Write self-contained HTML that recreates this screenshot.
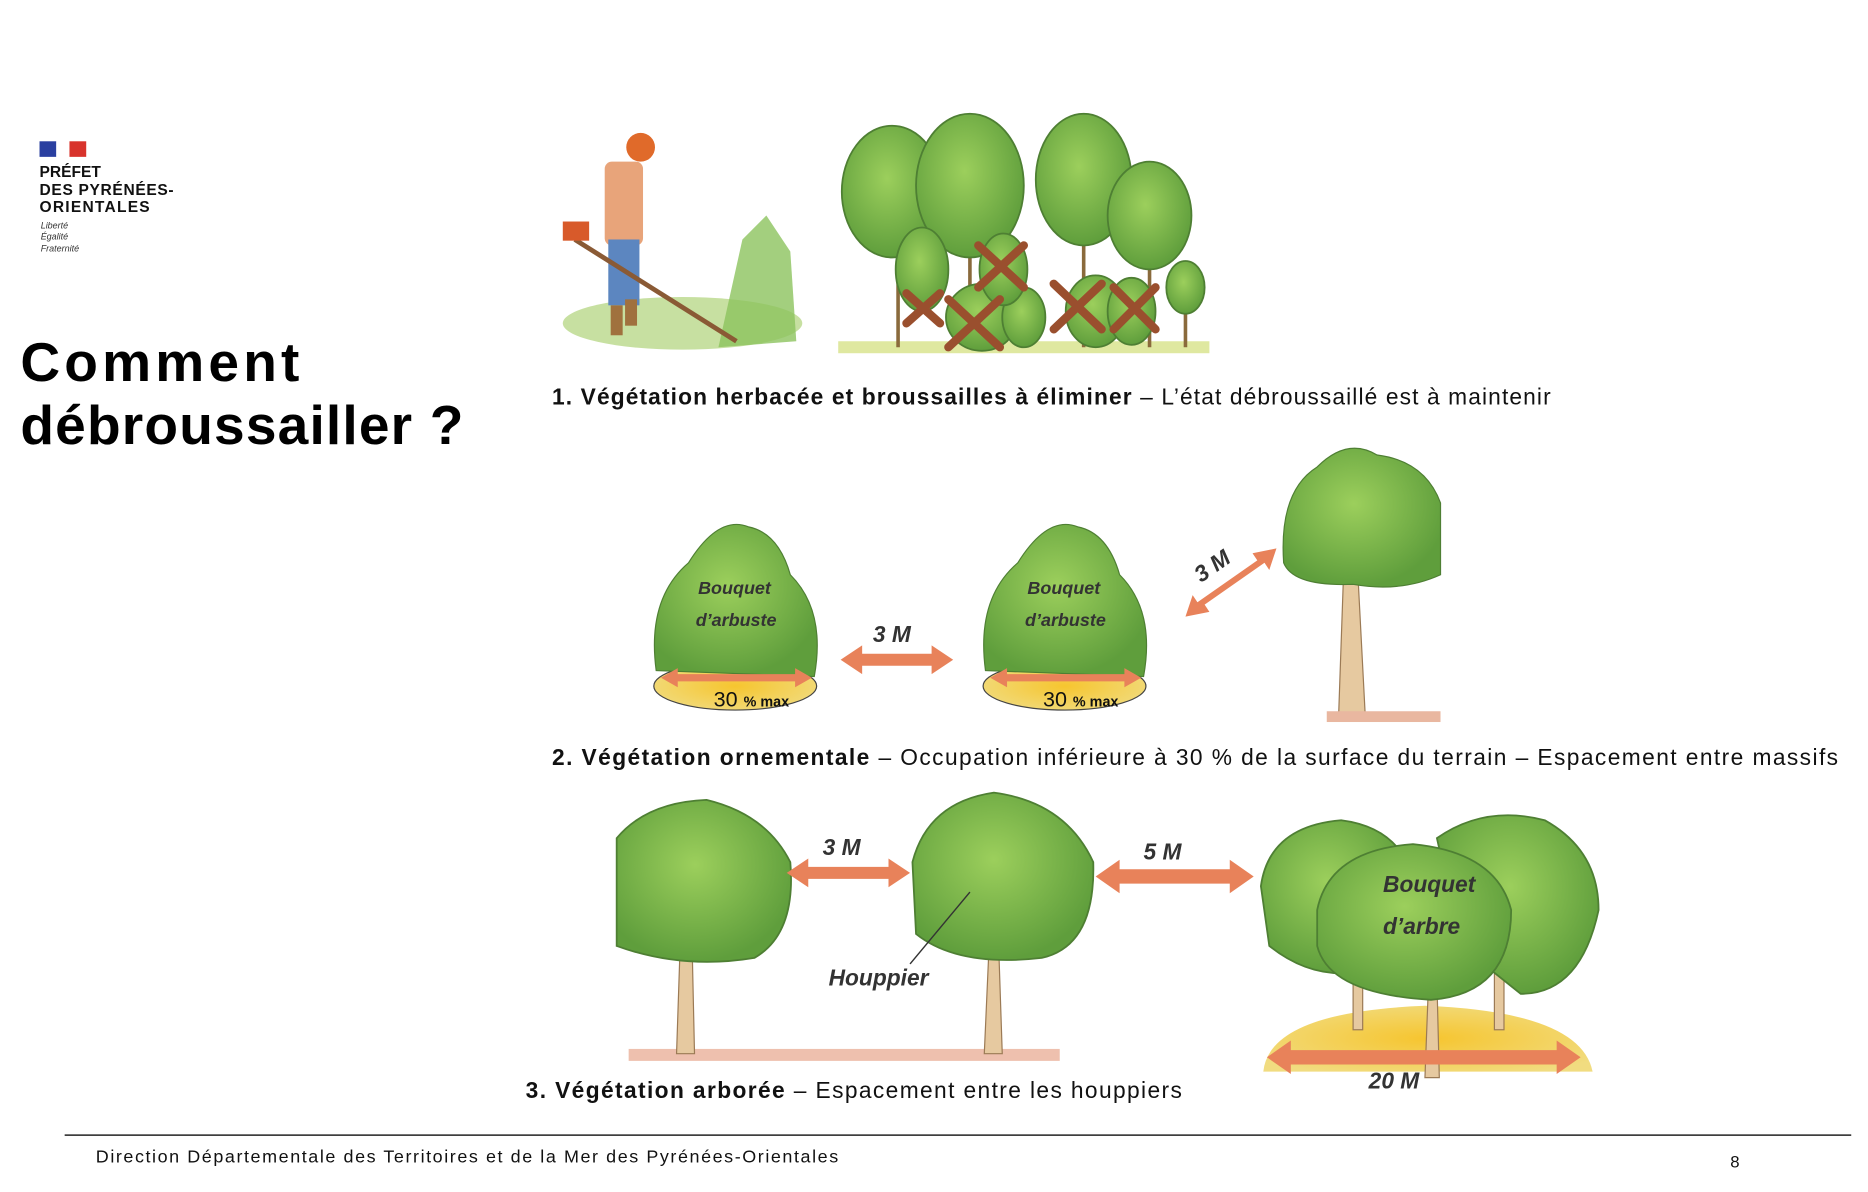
<!DOCTYPE html>
<html><head><meta charset="utf-8"><style>
html,body{margin:0;padding:0;background:#fff;width:1868px;height:1192px;overflow:hidden}
svg{display:block}
text{font-family:"Liberation Sans",sans-serif}
.cap{font-size:19px;fill:#111;font-family:"Liberation Sans Narrow","Liberation Sans",sans-serif}
.lbl{font-size:19px;font-weight:bold;font-style:italic;fill:#333}
</style></head><body>
<svg width="1868" height="1192" viewBox="0 0 1560 995.5" preserveAspectRatio="none" xmlns="http://www.w3.org/2000/svg">
<defs>
<radialGradient id="g" cx="45%" cy="40%" r="60%"><stop offset="0" stop-color="#9ccf5c"/><stop offset="1" stop-color="#5f9e3c"/></radialGradient>
<radialGradient id="y" cx="50%" cy="50%" r="60%"><stop offset="0" stop-color="#f6c52f"/><stop offset="1" stop-color="#f1dc80"/></radialGradient>
</defs>
<!-- logo -->
<rect x="33" y="118" width="14" height="13" fill="#2a3fa0"/><rect x="47" y="118" width="11" height="13" fill="#fff"/><rect x="58" y="118" width="14" height="13" fill="#d8332c"/>
<g font-weight="bold" font-size="13" fill="#111"><text x="33" y="148">PRÉFET</text><text x="33" y="163" textLength="112">DES PYRÉNÉES-</text><text x="33" y="177" textLength="92">ORIENTALES</text></g>
<g font-style="italic" font-size="7.5" fill="#333" font-family="Liberation Serif"><text x="34" y="191">Liberté</text><text x="34" y="200">Égalité</text><text x="34" y="210">Fraternité</text></g>
<g font-weight="bold" font-size="46" fill="#000"><text x="17" y="318" textLength="233">Comment</text><text x="17" y="371" textLength="370">débroussailler ?</text></g>

<!-- row 1: worker -->
<ellipse cx="570" cy="270" rx="100" ry="22" fill="#b9d88a" opacity=".8"/>
<path d="M600 290 L620 200 L640 180 L660 210 L665 285Z" fill="#8cc35e" opacity=".8"/>
<circle cx="535" cy="123" r="12" fill="#e06a2a"/>
<rect x="505" y="135" width="32" height="70" rx="6" fill="#e8a47a"/>
<rect x="508" y="200" width="26" height="55" fill="#5c86c0"/>
<rect x="510" y="255" width="10" height="25" fill="#a0713e"/><rect x="522" y="250" width="10" height="22" fill="#a0713e"/>
<line x1="480" y1="200" x2="615" y2="285" stroke="#8a5a35" stroke-width="4"/>
<rect x="470" y="185" width="22" height="16" fill="#d85a2a"/>
<!-- trees with crosses -->
<rect x="700" y="285" width="310" height="10" fill="#dfe8a0"/>
<g stroke="#8a6a3c" stroke-width="3"><line x1="750" y1="190" x2="750" y2="290"/><line x1="810" y1="190" x2="810" y2="290"/><line x1="905" y1="200" x2="905" y2="290"/><line x1="960" y1="210" x2="960" y2="290"/><line x1="990" y1="250" x2="990" y2="290"/></g>
<g fill="url(#g)" stroke="#4e7f33" stroke-width="1.5">
<ellipse cx="745" cy="160" rx="42" ry="55"/><ellipse cx="810" cy="155" rx="45" ry="60"/>
<ellipse cx="905" cy="150" rx="40" ry="55"/><ellipse cx="960" cy="180" rx="35" ry="45"/>
<ellipse cx="770" cy="225" rx="22" ry="35"/><ellipse cx="820" cy="265" rx="30" ry="28"/><ellipse cx="855" cy="265" rx="18" ry="25"/>
<ellipse cx="838" cy="225" rx="20" ry="30"/><ellipse cx="915" cy="260" rx="25" ry="30"/><ellipse cx="945" cy="260" rx="20" ry="28"/><ellipse cx="990" cy="240" rx="16" ry="22"/>
</g>
<g stroke="#9a4f2e" stroke-width="7" stroke-linecap="round">
<line x1="757" y1="245" x2="785" y2="270"/><line x1="785" y1="245" x2="757" y2="270"/>
<line x1="792" y1="250" x2="835" y2="290"/><line x1="835" y1="250" x2="792" y2="290"/>
<line x1="817" y1="205" x2="855" y2="240"/><line x1="855" y1="205" x2="817" y2="240"/>
<line x1="880" y1="237" x2="920" y2="275"/><line x1="920" y1="237" x2="880" y2="275"/>
<line x1="930" y1="240" x2="965" y2="275"/><line x1="965" y1="240" x2="930" y2="275"/>
</g>
<text class="cap" x="461" y="338" textLength="834"><tspan font-weight="bold">1. Végétation herbacée et broussailles à éliminer</tspan> – L’état débroussaillé est à maintenir</text>

<!-- row 2 -->
<g>
<ellipse cx="614" cy="573" rx="68" ry="20" fill="url(#y)" stroke="#444"/>
<path d="M548 560 Q540 500 575 470 Q600 430 625 440 Q650 445 660 480 Q690 510 680 565 Z" fill="url(#g)" stroke="#4e7f33"/>
<ellipse cx="889" cy="573" rx="68" ry="20" fill="url(#y)" stroke="#444"/>
<path d="M823 560 Q815 500 850 470 Q875 430 900 440 Q925 445 935 480 Q965 510 955 565 Z" fill="url(#g)" stroke="#4e7f33"/>
</g>
<g fill="#e8825a">
<path d="M552 566 L566 558 L566 563 L664 563 L664 558 L678 566 L664 574 L664 569 L566 569 L566 574Z"/>
<path d="M827 566 L841 558 L841 563 L939 563 L939 558 L953 566 L939 574 L939 569 L841 569 L841 574Z"/>
<path d="M702 551 L720 539 L720 546 L778 546 L778 539 L796 551 L778 563 L778 556 L720 556 L720 563Z"/>
<path d="M990 515 L996 497 L1000 503 L1050 468 L1046 462 L1066 458 L1060 476 L1056 470 L1006 505 L1010 511Z"/>
</g>
<g class="lbl" font-size="15" fill="#555"><text x="583" y="496" font-size="15">Bouquet</text><text x="581" y="523" font-size="15">d’arbuste</text><text x="858" y="496" font-size="15">Bouquet</text><text x="856" y="523" font-size="15">d’arbuste</text></g>
<text x="596" y="590" font-size="18" fill="#111" font-family="Liberation Sans Narrow">30 <tspan font-size="12" font-weight="bold">% max</tspan></text>
<text x="871" y="590" font-size="18" fill="#111" font-family="Liberation Sans Narrow">30 <tspan font-size="12" font-weight="bold">% max</tspan></text>
<text class="lbl" x="729" y="536">3 M</text>
<text class="lbl" transform="translate(1003,487) rotate(-35)">3 M</text>
<path d="M1122 480 L1118 595 L1140 595 L1134 480Z" fill="#e6c9a0" stroke="#9b7a55"/>
<rect x="1108" y="594" width="95" height="9" fill="#e9b7a0"/>
<path d="M1072 470 Q1068 410 1100 390 Q1125 365 1150 380 Q1190 385 1203 420 L1203 480 Q1170 495 1130 488 Q1080 490 1072 470Z" fill="url(#g)" stroke="#4e7f33"/>
<text class="cap" x="461" y="639" textLength="1074"><tspan font-weight="bold">2. Végétation ornementale</tspan> – Occupation inférieure à 30 % de la surface du terrain – Espacement entre massifs</text>

<!-- row 3 -->
<rect x="525" y="876" width="360" height="10" fill="#eec0ae"/>
<g fill="#e6c9a0" stroke="#9b7a55"><path d="M568 790 L565 880 L580 880 L578 790Z"/><path d="M826 790 L822 880 L837 880 L834 790Z"/></g>
<g fill="url(#g)" stroke="#4e7f33" stroke-width="1.5">
<path d="M515 700 Q540 670 590 668 Q640 680 660 720 Q665 780 630 800 Q570 810 515 790Z"/>
<path d="M762 720 Q775 670 830 662 Q890 670 913 720 Q915 790 870 800 Q800 808 765 780Z"/>
</g>
<line x1="810" y1="745" x2="760" y2="805" stroke="#333" stroke-width="1.2"/>
<text class="lbl" x="692" y="823" font-size="16" fill="#555">Houppier</text>
<g fill="#e8825a">
<path d="M657 729 L675 717 L675 724 L742 724 L742 717 L760 729 L742 741 L742 734 L675 734 L675 741Z"/>
<path d="M915 732 L935 718 L935 726 L1027 726 L1027 718 L1047 732 L1027 746 L1027 738 L935 738 L935 746Z"/>
</g>
<text class="lbl" x="687" y="714">3 M</text>
<text class="lbl" x="955" y="718">5 M</text>
<path d="M1055 895 Q1060 845 1190 840 Q1320 845 1330 895Z" fill="url(#y)"/>
<g fill="#e6c9a0" stroke="#9b7a55"><rect x="1130" y="800" width="8" height="60"/><rect x="1248" y="800" width="8" height="60"/><path d="M1193 820 L1190 900 L1202 900 L1200 820Z"/></g>
<g fill="url(#g)" stroke="#4e7f33" stroke-width="1.5">
<path d="M1053 740 Q1060 690 1120 685 Q1160 690 1175 720 L1170 800 Q1110 830 1060 790Z"/>
<path d="M1200 700 Q1240 672 1290 685 Q1335 710 1335 760 Q1320 830 1270 830 L1220 790Z"/>
<path d="M1100 760 Q1110 710 1180 705 Q1250 712 1262 760 Q1262 830 1195 835 Q1110 830 1100 790Z"/>
</g>
<path d="M1058 883 L1078 869 L1078 877 L1300 877 L1300 869 L1320 883 L1300 897 L1300 889 L1078 889 L1078 897Z" fill="#e8825a"/>
<text class="lbl" x="1155" y="745" font-size="20" fill="#555">Bouquet</text>
<text class="lbl" x="1155" y="780" font-size="20" fill="#555">d’arbre</text>
<text class="lbl" x="1143" y="909">20 M</text>
<text class="cap" x="439" y="917" textLength="548"><tspan font-weight="bold">3. Végétation arborée</tspan> – Espacement entre les houppiers</text>

<!-- footer -->
<line x1="54" y1="948" x2="1546" y2="948" stroke="#222" stroke-width="1.2"/>
<text x="80" y="971" font-size="15" fill="#111" textLength="620">Direction Départementale des Territoires et de la Mer des Pyrénées-Orientales</text>
<text x="1445" y="975" font-size="14" fill="#111">8</text>
</svg>
</body></html>
